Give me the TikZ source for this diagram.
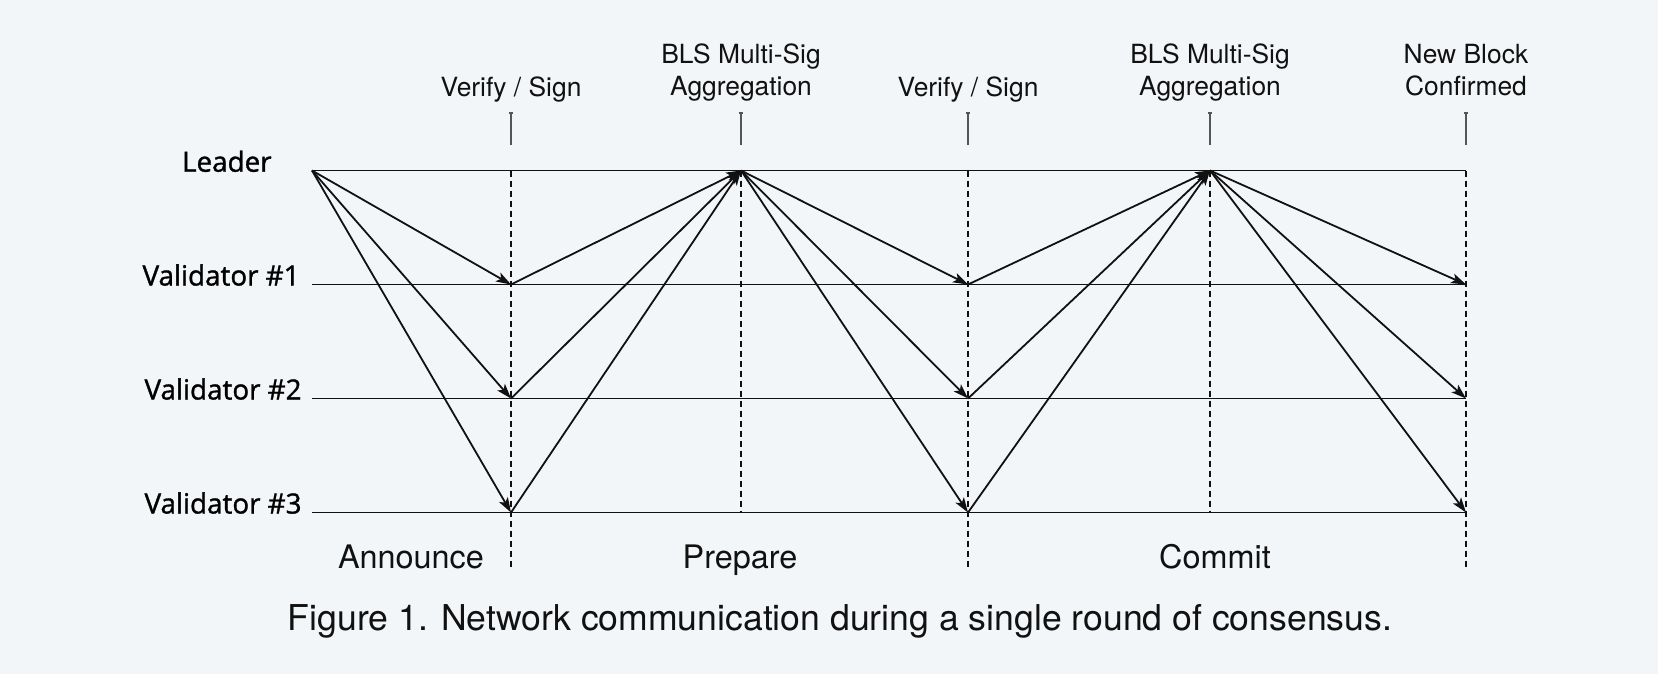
\documentclass[tikz,border=0pt]{standalone}
\usepackage{fontspec}
\setmainfont{TeX Gyre Heros}
\newfontfamily\actorfont[FakeBold=1.2]{Open Sans}
\usetikzlibrary{arrows.meta}
\definecolor{bg}{HTML}{F3F6F9}
\definecolor{ink}{HTML}{111111}
\definecolor{tickgray}{HTML}{555555}
\begin{document}
\begin{tikzpicture}[x=0.5pt,y=-0.5pt,
  lane/.style={line width=0.9pt, draw=ink},
  guide/.style={line width=0.8pt, dash pattern=on 3pt off 2pt, draw=ink},
  msg/.style={line width=0.9pt, draw=ink, -{Stealth[length=7.5pt,width=5pt,inset=1.8pt]}},
  tickmark/.style={line width=0.55pt, draw=tickgray},
  actor/.style={font=\actorfont\fontsize{13.9}{17}\selectfont, text=black, inner sep=0pt, anchor=base east},
  event/.style={font=\fontsize{13.2}{16}\selectfont, text=ink, inner sep=0pt, align=center, anchor=base},
  phase/.style={font=\fontsize{16.2}{19}\selectfont, text=ink, inner sep=0pt, anchor=base},
  figcap/.style={font=\fontsize{17.8}{22}\selectfont, text=ink, inner sep=0pt, anchor=base}
]
\useasboundingbox (0,0) rectangle (1658,674);
\fill[bg] (0,0) rectangle (1658,674);

% grid of coordinates
\foreach \n/\x in {s/312,a/511,b/741,c/968,d/1210,e/1466}{
  \foreach \r/\y in {0/170.5,1/284.5,2/398.5,3/512.5}{
    \coordinate (\n\r) at (\x,\y);
  }
  \coordinate (\n B) at (\x,569);
  \coordinate (\n T) at (\x,113);
  \coordinate (\n U) at (\x,144.5);
}

% lanes
\foreach \r in {0,1,2,3}{ \draw[lane] (s\r) -- (e\r); }

% dashed guides
\foreach \n in {a,c,e}{ \draw[guide] (\n0) -- (\n B); }
\foreach \n in {b,d}{ \draw[guide] (\n0) -- (\n3); }

% ticks
\foreach \n in {a,b,c,d,e}{
  \draw[tickmark] (\n T) -- (\n U);
  \draw[tickmark] ([xshift=-1.2pt]\n T) -- ([xshift=1.2pt]\n T);
}

% labels on the left
\node[actor] (leader) at (272,171.7) {Leader};
\node[actor] (val1) at (300,285.5) {Validator \#1};
\node[actor] (val2) at (302,399.5) {Validator \#2};
\node[actor] (val3) at (302,513.5) {Validator \#3};

% event labels
\node[event] (ev1) at (511,96.7) {Verify / Sign};
\node[event] (ev2) at (741,96) {BLS Multi-Sig\\Aggregation};
\node[event] (ev3) at (968,96.7) {Verify / Sign};
\node[event] (ev4) at (1210,96) {BLS Multi-Sig\\Aggregation};
\node[event] (ev5) at (1466,96) {New Block\\Confirmed};

% phases
\node[phase] (ph1) at (411,568) {Announce};
\node[phase] (ph2) at (740,568) {Prepare};
\node[phase] (ph3) at (1215,568) {Commit};

% caption
\node[figcap] (cap) at (840,630.7) {Figure 1. Network communication during a single round of consensus.};

% messages
\foreach \r in {1,2,3}{
  \draw[msg] (s0) -- (a\r);
  \draw[msg] (a\r) -- (b0);
  \draw[msg] (b0) -- (c\r);
  \draw[msg] (c\r) -- (d0);
  \draw[msg] (d0) -- (e\r);
}
\end{tikzpicture}
\end{document}
